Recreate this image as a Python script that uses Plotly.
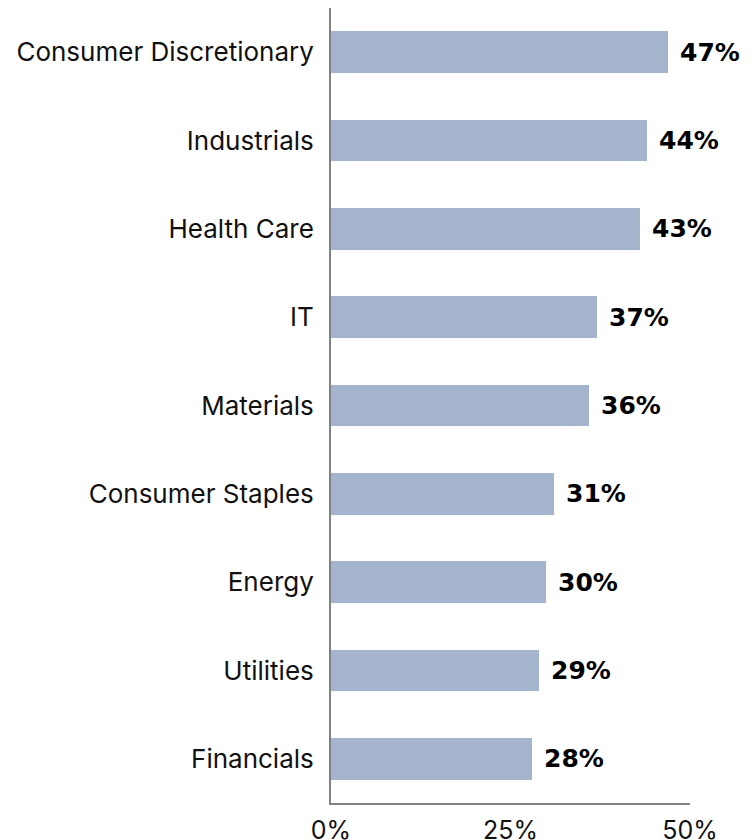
import plotly.graph_objects as go

sectors = ["Consumer Discretionary", "Industrials", "Health Care", "IT", "Materials",
           "Consumer Staples", "Energy", "Utilities", "Financials"]
shares = [47, 44, 43, 37, 36, 31, 30, 29, 28]
tick_vals = [0, 25, 50]
tick_text = ["0%", "25%", "50%"]

BAR = "#a3b4cc"
AXIS = "#7d8386"

fig = go.Figure(go.Bar(
    y=sectors, x=shares, orientation="h",
    marker=dict(color=BAR, line=dict(width=0)),
    width=0.47,
    hoverinfo="skip",
))

for s, v in zip(sectors, shares):
    fig.add_annotation(
        x=v, y=s, text=f"<b>{v}%</b>", showarrow=False,
        xanchor="left", xshift=10,
        font=dict(family="DejaVu Sans", size=25, color="#000000"),
    )

# page body adds an 8px offset, margins are set to compensate
fig.update_layout(
    width=756, height=840,
    margin=dict(l=323, r=74, t=0, b=45),
    plot_bgcolor="white", paper_bgcolor="white",
    showlegend=False,
    bargap=0,
    xaxis=dict(
        range=[0, 50], tickvals=tick_vals, ticktext=tick_text,
        showgrid=False, zeroline=False, automargin=False,
        showline=True, linecolor=AXIS, linewidth=2,
        ticks="", ticklabelstandoff=4,
        tickfont=dict(family="Inter", size=25, color="#111111"),
    ),
    yaxis=dict(
        autorange="reversed", showgrid=False, zeroline=False, automargin=False,
        showline=True, linecolor=AXIS, linewidth=2,
        ticks="", ticklabelstandoff=10,
        tickfont=dict(family="Inter", size=26, color="#111111"),
    ),
)

fig.write_html("out.html")
